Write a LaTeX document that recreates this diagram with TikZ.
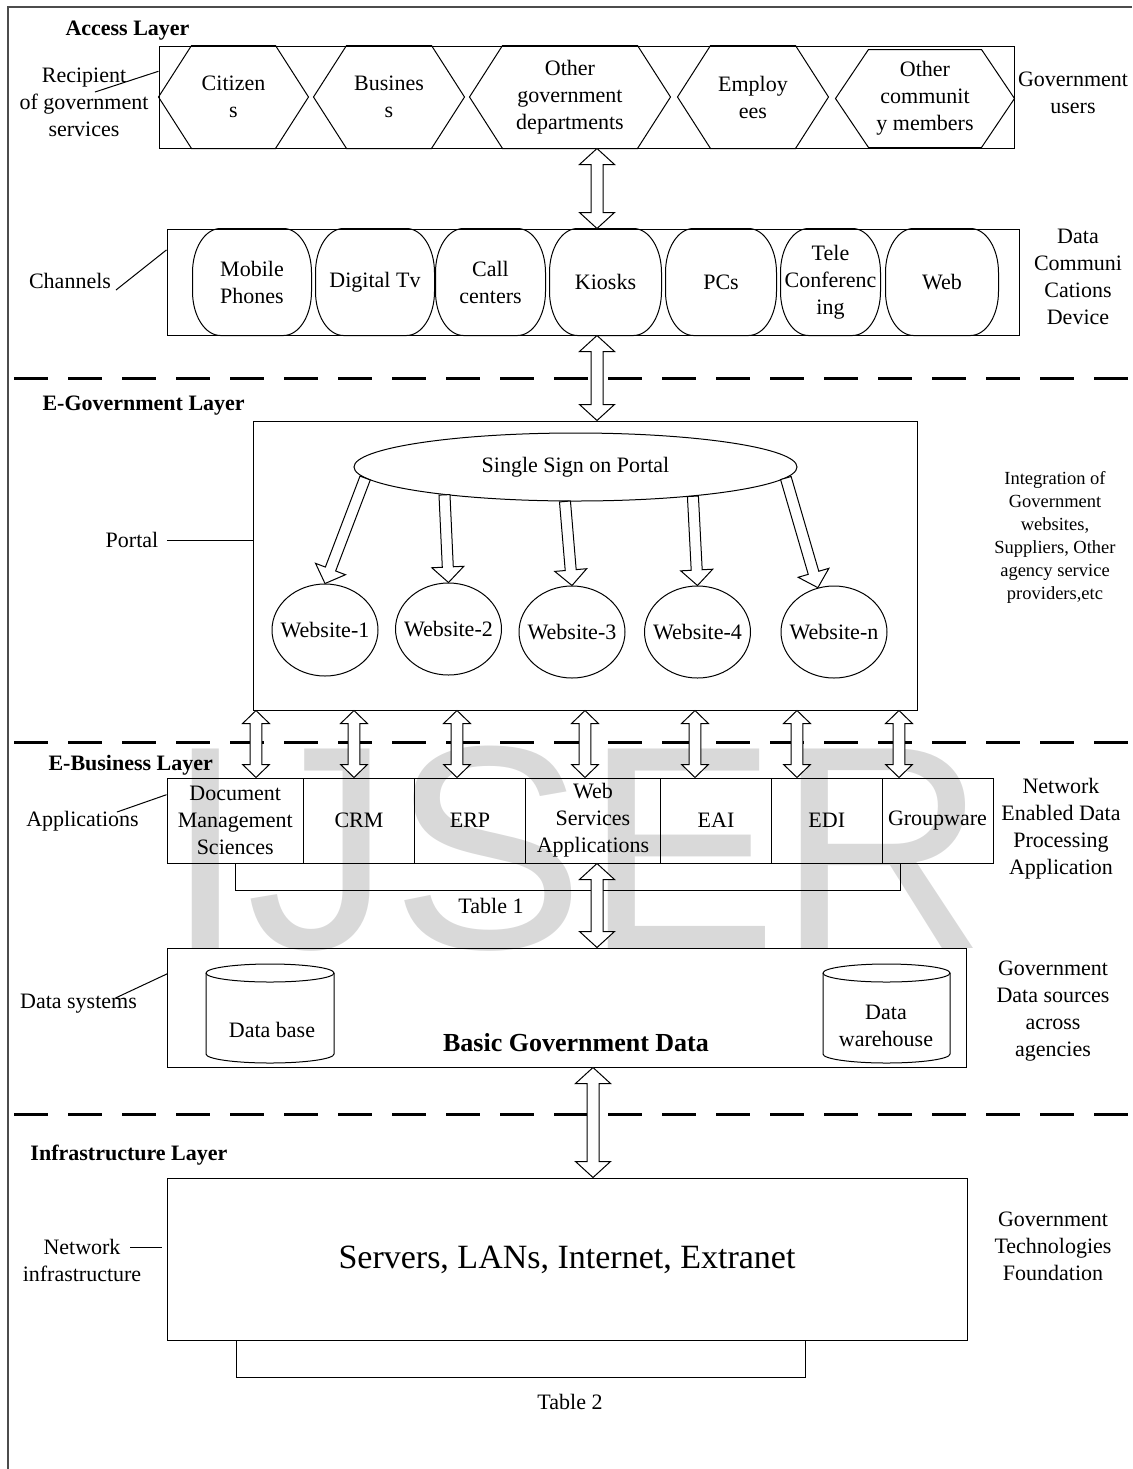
\documentclass[tikz,border=0pt]{standalone}
\usepackage{fontspec}
\setmainfont{Liberation Serif}
\newfontfamily\wmfont{Liberation Sans}
\usetikzlibrary{calc,shapes.geometric}

% hollow block arrows: shaft half width, head half width, head length
\def\ashaft{3pt}\def\ahead{8.75pt}\def\alen{8pt}
\newcommand{\hdarrow}[2]{%
  \coordinate (bs) at ($(#1)!\alen!(#2)$);
  \coordinate (bt) at ($(#2)!\alen!(#1)$);
  \draw[blockarrow] (#1) -- ($(bs)!\ahead!90:(#2)$) -- ($(bs)!\ashaft!90:(#2)$)
    -- ($(bt)!\ashaft!-90:(#1)$) -- ($(bt)!\ahead!-90:(#1)$) -- (#2)
    -- ($(bt)!\ahead!90:(#1)$) -- ($(bt)!\ashaft!90:(#1)$)
    -- ($(bs)!\ashaft!-90:(#2)$) -- ($(bs)!\ahead!-90:(#2)$) -- cycle;}
\newcommand{\harrow}[2]{%
  \coordinate (bt) at ($(#2)!\alen!(#1)$);
  \draw[blockarrow] ($(#1)!\ashaft!90:(#2)$) -- ($(bt)!\ashaft!-90:(#1)$)
    -- ($(bt)!\ahead!-90:(#1)$) -- (#2) -- ($(bt)!\ahead!90:(#1)$)
    -- ($(bt)!\ashaft!90:(#1)$) -- ($(#1)!\ashaft!-90:(#2)$) -- cycle;}

\begin{document}
\begin{tikzpicture}[x=0.5pt,y=-0.5pt,line width=0.5pt,
  font=\fontsize{11}{13.5}\selectfont,
  box/.style={draw,inner sep=0pt},
  lbl/.style={align=center,inner sep=1pt},
  layer/.style={font=\fontsize{11}{13.5}\selectfont\bfseries,anchor=base west,inner sep=0pt},
  hexa/.style={align=center,inner sep=0pt,minimum height=51pt},
  chan/.style={align=center,inner sep=0pt,minimum height=53pt},
  cell/.style={draw,align=center,inner sep=0pt,minimum height=42.5pt},
  site/.style={draw,ellipse,inner sep=0pt,minimum width=53pt,minimum height=46pt},
  layerline/.style={line width=1.5pt,dash pattern=on 17pt off 10pt},
  blockarrow/.style={draw,fill=white,line join=miter},
  lead/.style={line width=0.5pt}]
\useasboundingbox (0,0) rectangle (1132,1469);

% watermark and frame
\node[anchor=base west,inner sep=0pt,text=black!15,font=\wmfont\fontsize{145}{145}\selectfont] (wm) at (165,948) {IJSER};
\draw[black!70,line width=0.6pt] (8,1469) -- (8,7) -- (1132,7);

% layer borders
\draw[layerline] (14,378) -- (1132,378);
\draw[layerline] (14,742) -- (1132,742);
\draw[layerline] (14,1114) -- (1132,1114);

%% Access layer
\node[layer] (accl) at (65,35) {Access Layer};
\node[box,minimum width=427.5pt,minimum height=51pt] (acc) at (586.5,97) {};
\node[hexa,minimum width=74.5pt] (cit) at (233.5,97) {Citizen\\s};
\node[hexa,minimum width=75pt] (bus) at (389,97) {Busines\\s};
\node[hexa,minimum width=100pt] (ogd) at (570,97) {Other\\government\\departments};
\node[hexa,minimum width=75pt] (emp) at (753,97) {Employ\\ees};
\node[hexa,minimum width=89pt,minimum height=48.5pt] (ocm) at (925,98.5) {Other\\communit\\y members};
\foreach \n in {cit,bus,ogd,emp,ocm}
  \draw (\n.west) -- ($(\n.north west)+(33,0)$) -- ($(\n.north east)+(-33,0)$)
    -- (\n.east) -- ($(\n.south east)+(-33,0)$) -- ($(\n.south west)+(33,0)$) -- cycle;

\node[lbl] (rcp) at (84,102) {Recipient\\of government\\services};
\coordinate (rcpl) at (95,92);
\draw[lead] (rcpl) -- ($(acc.north west)!0.25!(acc.south west)$);
\node[lbl] (gus) at (1073,93) {Government\\users};

%% Channels
\node[box,minimum width=426pt,minimum height=53pt] (chn) at (593,282) {};
\node[chan,minimum width=59pt] (mob) at (252,282) {Mobile\\Phones};
\node[chan,minimum width=59pt] (dtv) at (375,282) {Digital Tv};
\node[chan,minimum width=54.5pt] (cal) at (490.5,282) {Call\\centers};
\node[chan,minimum width=55.5pt] (kio) at (605.5,282) {Kiosks};
\node[chan,minimum width=55pt] (pcs) at (721,282) {PCs};
\node[chan,minimum width=49.5pt] (tel) at (830.5,282) {Tele\\Conferenc\\ing};
\node[chan,minimum width=56pt] (web) at (942,282) {Web};
\foreach \n in {mob,dtv,cal,kio,pcs,tel,web}
  \draw ($(\n.north west)+(28,0)$) -- ($(\n.north east)+(-28,0)$)
    arc[start angle=270,end angle=360,x radius=28,y radius=44] -- ($(\n.south east)+(0,-44)$)
    arc[start angle=0,end angle=90,x radius=28,y radius=44] -- ($(\n.south west)+(28,0)$)
    arc[start angle=90,end angle=180,x radius=28,y radius=44] -- ($(\n.north west)+(0,44)$)
    arc[start angle=180,end angle=270,x radius=28,y radius=44] -- cycle;

\node[lbl] (chl) at (70,281) {Channels};
\coordinate (chll) at (116,290);
\draw[lead] (chll) -- ($(chn.north west)!0.2!(chn.south west)$);
\node[lbl] (dcd) at (1078,277) {Data\\Communi\\Cations\\Device};

\coordinate (ax) at (597,0);
\coordinate (a1s) at (ax |- acc.south);
\coordinate (a1t) at (ax |- chn.north);
\hdarrow{a1s}{a1t}

%% E-Government layer
\node[layer] (egl) at (42,410) {E-Government Layer};
\node[box,minimum width=332pt,minimum height=144.5pt] (prt) at (585,565.5) {};
\coordinate (a2s) at (ax |- chn.south);
\coordinate (a2t) at (ax |- prt.north);
\hdarrow{a2s}{a2t}

\node[draw,ellipse,inner sep=0pt,minimum width=221.5pt,minimum height=34pt] (sso) at (575.5,467) {Single Sign on Portal};
\node[site] (w1) at (325,630) {\makebox[0pt]{Website-1}};
\node[site] (w2) at (448.5,629) {\makebox[0pt]{Website-2}};
\node[site] (w3) at (572,632) {\makebox[0pt]{Website-3}};
\node[site] (w4) at (697.5,632) {\makebox[0pt]{Website-4}};
\node[site] (wn) at (834,632) {\makebox[0pt]{Website-n}};
\def\ashaft{2.75pt}\def\ahead{8pt}\def\alen{7.75pt}
\harrow{sso.183}{w1.north}
\harrow{sso.192}{w2.north}
\harrow{sso.253}{w3.north}
\harrow{sso.346}{w4.north}
\harrow{sso.357}{wn.110}

\node[lbl] (prl) at (132,540) {Portal};
\draw[lead,shorten <=3pt] (prl.east) -- (prl.east -| prt.west);
\node[lbl,font=\fontsize{9.25}{11.5}\selectfont] (igw) at (1055,537.5)
  {Integration of\\Government\\websites,\\Suppliers, Other\\agency service\\providers,etc};

%% E-Business layer
\node[layer] (ebl) at (48,770) {E-Business Layer};
\node[cell,minimum width=68.25pt] (doc) at (235.25,820.5) {Document\\Management\\Sciences};
\node[cell,minimum width=55.5pt] (crm) at (359,820.5) {CRM};
\node[cell,minimum width=55.5pt] (erp) at (470,820.5) {ERP};
\node[cell,minimum width=67.5pt] (wsa) at (593,820.5) {Web\\Services\\Applications};
\node[cell,minimum width=55.5pt] (eai) at (716,820.5) {EAI};
\node[cell,minimum width=55.2pt] (edi) at (826.8,820.5) {EDI};
\node[cell,minimum width=55.5pt] (grp) at (937.5,820.5) {Groupware};

\def\ashaft{2.9pt}\def\ahead{6.7pt}\def\alen{6.5pt}
\foreach \x in {256,354,457,585,695,797,899} {
  \coordinate (pa) at (\x,0);
  \coordinate (ps) at (pa |- prt.south);
  \coordinate (pb) at (pa |- doc.north);
  \hdarrow{ps}{pb}
}

\node[lbl] (apl) at (82.5,821) {Applications};
\coordinate (apll) at (117,812);
\draw[lead] (apll) -- ($(doc.north west)!0.2!(doc.south west)$);
\coordinate (t1r) at (900,0);
\draw[lead] (doc.south) -- ++(0,27) -| (t1r |- doc.south);
\node[lbl] (tb1) at (491,906) {Table 1};
\node[lbl] (nedp) at (1061,829) {Network\\Enabled Data\\Processing\\Application};

%% Data systems
\node[box,minimum width=399.25pt,minimum height=59.5pt] (dat) at (566.75,1007.5) {};
\def\ashaft{3pt}\def\ahead{8.75pt}\def\alen{8pt}
\coordinate (a3s) at (ax |- wsa.south);
\coordinate (a3t) at (ax |- dat.north);
\hdarrow{a3s}{a3t}

\draw (206,973) arc[start angle=180,end angle=360,x radius=64,y radius=9] -- (334,1054)
  arc[start angle=0,end angle=180,x radius=64,y radius=9] -- cycle;
\draw (206,973) arc[start angle=180,end angle=0,x radius=64,y radius=9];
\draw (823,973) arc[start angle=180,end angle=360,x radius=63.5,y radius=9] -- (950,1054)
  arc[start angle=0,end angle=180,x radius=63.5,y radius=9] -- cycle;
\draw (823,973) arc[start angle=180,end angle=0,x radius=63.5,y radius=9];
\node[lbl] (dbs) at (272,1030) {Data base};
\node[lbl] (dwh) at (886,1026) {Data\\warehouse};
\node[font=\fontsize{13}{15}\selectfont\bfseries] (bgd) at (576,1043) {Basic Government Data};

\node[lbl] (dsl) at (78.5,1004) {Data systems};
\coordinate (dsll) at (115.5,998);
\draw[lead] (dsll) -- ($(dat.north west)!0.22!(dat.south west)$);
\node[lbl] (gds) at (1053,1011) {Government\\Data sources\\across\\agencies};

%% Infrastructure layer
\node[layer] (infl) at (30,1160) {Infrastructure Layer};
\node[box,minimum width=400pt,minimum height=81pt] (inf) at (567.5,1259) {};
\coordinate (bx) at (593,0);
\coordinate (a4s) at (bx |- dat.south);
\coordinate (a4t) at (bx |- inf.north);
\hdarrow{a4s}{a4t}
\node[font=\fontsize{17}{20}\selectfont] (srv) at (567,1260) {Servers, LANs, Internet, Extranet};

\node[lbl] (nif) at (82,1260) {Network\\infrastructure};
\coordinate (nifl) at (130,1247);
\draw[lead] (nifl) -- ++(32,0);
\node[lbl] (gtf) at (1053,1246) {Government\\Technologies\\Foundation};

\coordinate (t2l) at (236,0);
\coordinate (t2r) at (805,0);
\draw[lead] (t2l |- inf.south) -- ++(0,37) -| (t2r |- inf.south);
\node[lbl] (tb2) at (570,1402) {Table 2};

\end{tikzpicture}
\end{document}
